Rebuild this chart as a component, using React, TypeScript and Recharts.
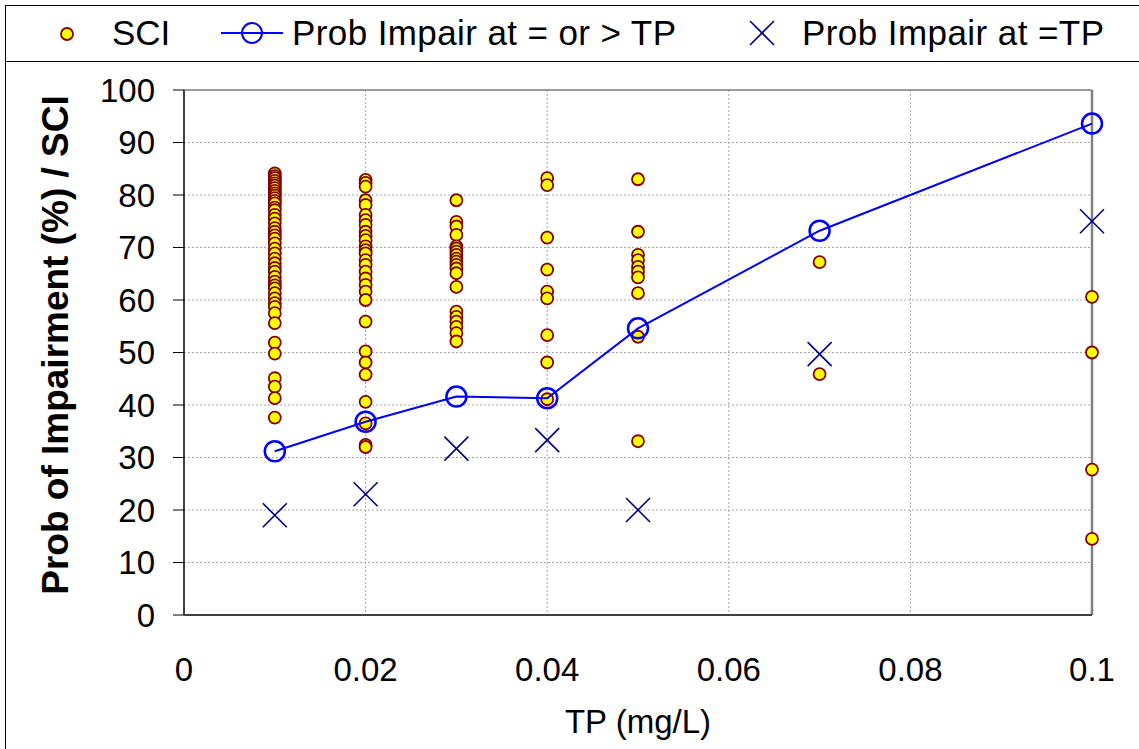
import React from 'react';
import { ScatterChart, Scatter, XAxis, YAxis, CartesianGrid, Legend, ReferenceLine } from 'recharts';

// TP levels (mg/L)
const tpLevels = [0.01, 0.02, 0.03, 0.04, 0.05, 0.07, 0.1];

// SCI values observed at each TP level
const sci001 = [84.1, 83.6, 83.2, 82.7, 82.2, 81.8, 81.3, 80.8, 80.3, 79.9, 79.4, 78.9, 78.4, 77.6, 77.1, 76.2, 75.5, 74.6, 73.7, 73.0, 72.3, 71.7, 70.8, 69.8, 68.9, 67.9, 67.0, 66.1, 65.4, 64.4, 63.5, 62.8, 62.2, 61.3, 60.3, 59.4, 58.7, 57.5, 55.6, 51.9, 49.8, 45.1, 43.5, 41.3, 37.6];
const sci002 = [82.9, 82.3, 81.6, 79.0, 78.1, 76.2, 75.2, 74.3, 73.0, 72.2, 71.4, 70.2, 69.5, 68.9, 67.6, 66.7, 65.4, 64.1, 62.9, 61.6, 60.0, 55.9, 50.2, 48.1, 45.8, 40.6, 36.5, 32.4, 32.0];
const sci003 = [79.0, 74.9, 74.0, 72.4, 70.2, 69.8, 69.2, 68.6, 67.9, 67.3, 66.7, 66.0, 65.1, 62.5, 57.8, 56.8, 55.9, 54.9, 53.7, 52.1];
const sci004 = [83.2, 81.9, 71.9, 65.8, 61.6, 60.3, 53.3, 48.1, 41.1];
const sci005 = [83.0, 73.0, 68.6, 67.6, 66.3, 65.4, 64.3, 61.3, 53.0, 33.1];
const sci007 = [67.2, 45.9];
const sci010 = [60.6, 50.0, 27.7, 14.5];

// probability of impairment (%)
const probAtOrAbove = [31.2, 36.8, 41.6, 41.3, 54.6, 73.2, 93.6];
const probAt = [19.0, 23.0, 31.7, 33.3, 20.0, 49.7, 75.0];

const xTicks = [0, 0.02, 0.04, 0.06, 0.08, 0.1];
const yTicks = [0, 10, 20, 30, 40, 50, 60, 70, 80, 90, 100];

const sciByLevel = [sci001, sci002, sci003, sci004, sci005, sci007, sci010];
const sciData = sciByLevel.flatMap((vals, i) => vals.map(v => ({ x: tpLevels[i], y: v })));
const geData = tpLevels.map((x, i) => ({ x, y: probAtOrAbove[i] }));
const eqData = tpLevels.map((x, i) => ({ x, y: probAt[i] }));

const FONT = 'Liberation Sans, Arial, sans-serif';

const SciDot = (props: any) => (
  <circle cx={props.cx} cy={props.cy} r={6} fill="#FFFF00" stroke="#800000" strokeWidth={1.8} />
);

const RingDot = (props: any) => (
  <circle cx={props.cx} cy={props.cy} r={10} fill="none" stroke="#0000FF" strokeWidth={2.5} />
);

const Cross = (props: any) => {
  const { cx, cy } = props;
  const s = 12;
  return (
    <g stroke="#000080" strokeWidth={1.6}>
      <line x1={cx - s} y1={cy - s} x2={cx + s} y2={cy + s} />
      <line x1={cx - s} y1={cy + s} x2={cx + s} y2={cy - s} />
    </g>
  );
};

const renderLegend = () => (
  <svg width={1139} height={62} style={{ display: 'block' }}>
    <g fontFamily={FONT} fontSize={35} fill="#000">
      <circle cx={67} cy={34} r={6} fill="#FFFF00" stroke="#800000" strokeWidth={1.8} />
      <text x={112} y={45}>SCI</text>
      <line x1={221} y1={33} x2={283} y2={33} stroke="#0000FF" strokeWidth={2} />
      <circle cx={252} cy={33} r={10} fill="none" stroke="#0000FF" strokeWidth={2} />
      <text x={292} y={45} textLength={384} lengthAdjust="spacing">Prob Impair at = or &gt; TP</text>
      <g stroke="#000080" strokeWidth={1.6}>
        <line x1={750} y1={21} x2={774} y2={45} />
        <line x1={750} y1={45} x2={774} y2={21} />
      </g>
      <text x={802} y={45} textLength={302} lengthAdjust="spacing">Prob Impair at =TP</text>
    </g>
  </svg>
);

const YTitle = () => (
  <text
    x={55}
    y={345}
    transform="rotate(-90, 55, 345)"
    textAnchor="middle"
    dy="0.36em"
    fontFamily={FONT}
    fontSize={37}
    fontWeight="bold"
    fill="#000"
  >
    Prob of Impairment (%) / SCI
  </text>
);

export default function App() {
  return (
    <div style={{ position: 'relative', width: 1139, height: 749, background: '#fff', overflow: 'hidden' }}>
      <style>{`body{margin:0;}`}</style>
      <div
        style={{
          position: 'absolute', left: 5, top: 5, width: 1140, height: 750,
          borderLeft: '1px solid #000', borderTop: '1px solid #000', boxSizing: 'border-box',
        }}
      />
      <div style={{ position: 'absolute', left: 5, top: 61, width: 1140, height: 0, borderTop: '1px solid #000' }} />
      <ScatterChart
        width={1139}
        height={749}
        margin={{ top: 90, right: 47, bottom: 0, left: 0 }}
        style={{ fontFamily: FONT }}
      >
        <CartesianGrid stroke="#a6a6a6" strokeDasharray="2 2" strokeWidth={1} />
        <XAxis
          dataKey="x"
          type="number"
          domain={[0, 0.1]}
          ticks={xTicks}
          height={134}
          tickSize={0}
          tickMargin={43}
          tick={{ fontSize: 33, fill: '#000', fontFamily: FONT }}
          axisLine={{ stroke: '#404040', strokeWidth: 2 }}
          label={{ value: 'TP (mg/L)', position: 'insideBottom', offset: 16, fontSize: 33, fill: '#000', fontFamily: FONT }}
        />
        <YAxis
          dataKey="y"
          type="number"
          domain={[0, 100]}
          ticks={yTicks}
          width={184}
          tickSize={11}
          tickMargin={18}
          tick={{ fontSize: 33, fill: '#000', fontFamily: FONT }}
          tickLine={{ stroke: '#000', strokeWidth: 1 }}
          axisLine={{ stroke: '#404040', strokeWidth: 2 }}
          label={<YTitle />}
        />
        <ReferenceLine y={100} stroke="#808080" strokeWidth={1.5} />
        <ReferenceLine x={0.1} stroke="#808080" strokeWidth={2.5} />
        <Legend verticalAlign="middle" layout="horizontal" wrapperStyle={{ top: 0, left: 0, width: 1139, height: 62 }} content={renderLegend} />
        <Scatter name="SCI" data={sciData} shape={<SciDot />} isAnimationActive={false} />
        <Scatter
          name="Prob Impair at = or > TP"
          data={geData}
          shape={<RingDot />}
          line={{ stroke: '#0000FF', strokeWidth: 2 }}
          isAnimationActive={false}
        />
        <Scatter name="Prob Impair at =TP" data={eqData} shape={<Cross />} isAnimationActive={false} />
      </ScatterChart>
    </div>
  );
}
